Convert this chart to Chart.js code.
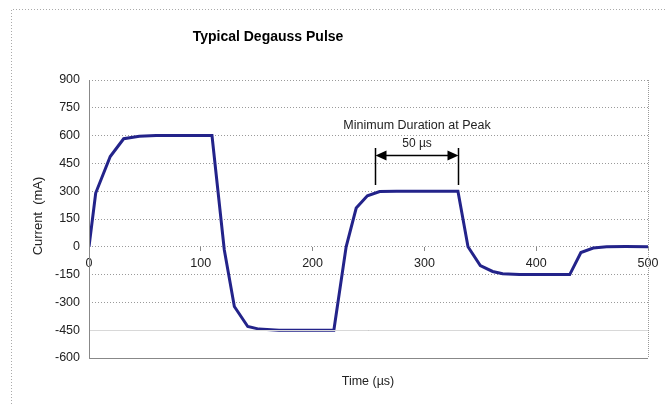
<!DOCTYPE html>
<html>
<head>
<meta charset="utf-8">
<script src="https://cdn.jsdelivr.net/npm/chart.js@4"></script>
<style>
  html, body { margin: 0; padding: 0; background: #fff; }
  #wrap { width: 665px; height: 404px; }
</style>
</head>
<body>
<div id="wrap"><canvas id="pulse" width="665" height="404"></canvas></div>
<script>
// values
const timeUs = [0, 6, 19, 31, 45, 60, 110, 121, 130, 142, 152, 170, 219, 230, 239, 249, 260, 275, 330, 339, 350, 361, 370, 385, 430, 440, 451, 463, 480, 500];
const currentMa = [0, 290, 487, 583, 597, 600, 600, -16, -322, -430, -444, -450, -450, 0, 209, 275, 298, 300, 300, 0, -101, -133, -145, -150, -150, -31, -7, 0, 1, 0];
const yTicks = [-600, -450, -300, -150, 0, 150, 300, 450, 600, 750, 900];
const xTicks = [0, 100, 200, 300, 400, 500];

const chartTitle = "Typical Degauss Pulse";
const xTitle = "Time (µs)";
const yTitle = "Current  (mA)";
const noteTitle = "Minimum Duration at Peak";
const noteSpan = "50 µs";
// annotation span in data units
const spanStart = 256, spanEnd = 330;
const spanTop = 533, spanBottom = 334, arrowAt = 496, spanLabelAt = 555, noteAt = 652;

const FONT = "'Liberation Sans', Arial, sans-serif";

const decor = {
  id: "decor",
  beforeDraw(chart) {
    const ctx = chart.ctx;
    ctx.save();
    ctx.strokeStyle = "#aaa";
    ctx.lineWidth = 1;
    ctx.setLineDash([1, 2]);
    ctx.beginPath();
    ctx.moveTo(11.5, 404);
    ctx.lineTo(11.5, 9.5);
    ctx.lineTo(665, 9.5);
    ctx.stroke();
    ctx.restore();
  },
  afterDatasetsDraw(chart) {
    const { ctx, chartArea: a, scales: { x, y } } = chart;
    ctx.save();
    // plot frame
    ctx.setLineDash([]);
    ctx.strokeStyle = "#d8d8d8";
    ctx.lineWidth = 1;
    ctx.beginPath();
    const y450 = Math.round(y.getPixelForValue(-450)) + 0.5;
    ctx.moveTo(a.left, y450); ctx.lineTo(a.right, y450);
    ctx.stroke();
    ctx.strokeStyle = "#888";
    ctx.beginPath();
    ctx.moveTo(Math.round(a.left) + 0.5, a.top);
    ctx.lineTo(Math.round(a.left) + 0.5, Math.round(a.bottom) + 0.5);
    ctx.lineTo(a.right, Math.round(a.bottom) + 0.5);
    ctx.stroke();
    ctx.setLineDash([1, 1]);
    ctx.strokeStyle = "#999";
    ctx.beginPath();
    ctx.moveTo(Math.round(a.right) + 0.5, a.top);
    ctx.lineTo(Math.round(a.right) + 0.5, a.bottom);
    ctx.stroke();
    ctx.setLineDash([]);

    // duration annotation
    const x1 = Math.round(x.getPixelForValue(spanStart)) + 0.5;
    const x2 = Math.round(x.getPixelForValue(spanEnd)) + 0.5;
    const yt = y.getPixelForValue(spanTop);
    const yb = y.getPixelForValue(spanBottom);
    const ya = Math.round(y.getPixelForValue(arrowAt)) + 0.5;
    ctx.strokeStyle = "#000";
    ctx.fillStyle = "#000";
    ctx.lineWidth = 1.5;
    ctx.beginPath();
    ctx.moveTo(x1, yt); ctx.lineTo(x1, yb);
    ctx.moveTo(x2, yt); ctx.lineTo(x2, yb);
    ctx.moveTo(x1 + 6, ya); ctx.lineTo(x2 - 6, ya);
    ctx.stroke();
    ctx.beginPath();
    ctx.moveTo(x1, ya); ctx.lineTo(x1 + 11, ya - 5); ctx.lineTo(x1 + 11, ya + 5); ctx.closePath();
    ctx.moveTo(x2, ya); ctx.lineTo(x2 - 11, ya - 5); ctx.lineTo(x2 - 11, ya + 5); ctx.closePath();
    ctx.fill();

    ctx.fillStyle = "#222";
    ctx.textAlign = "center";
    ctx.textBaseline = "middle";
    ctx.font = "12px " + FONT;
    const xm = (x1 + x2) / 2;
    ctx.fillText(noteSpan, xm, y.getPixelForValue(spanLabelAt));
    ctx.font = "12.5px " + FONT;
    ctx.fillText(noteTitle, xm, y.getPixelForValue(noteAt));

    // titles
    ctx.fillStyle = "#000";
    ctx.font = "bold 14px " + FONT;
    ctx.fillText(chartTitle, 268, 37);
    ctx.fillStyle = "#222";
    ctx.font = "12.5px " + FONT;
    ctx.fillText(xTitle, 368, 382);
    ctx.translate(38, 216);
    ctx.rotate(-Math.PI / 2);
    ctx.font = "13px " + FONT;
    ctx.fillText(yTitle, 0, 0);
    ctx.restore();
  }
};

new Chart(document.getElementById("pulse"), {
  type: "scatter",
  data: {
    datasets: [{
      data: timeUs.map((t, i) => ({ x: t, y: currentMa[i] })),
      showLine: true,
      borderColor: "#23238a",
      borderWidth: 3,
      pointRadius: 0,
      tension: 0
    }]
  },
  options: {
    responsive: false,
    animation: false,
    layout: { padding: { left: 0, top: 80, right: 17, bottom: 46 } },
    plugins: { legend: { display: false }, tooltip: { enabled: false } },
    scales: {
      x: {
        type: "linear",
        position: { y: 0 },
        min: 0, max: 500,
        afterBuildTicks: (s) => { s.ticks = xTicks.map(v => ({ value: v })); },
        grid: { drawOnChartArea: false, drawTicks: true, tickLength: 4, color: "#888" },
        border: { display: false },
        ticks: { color: "#222", font: { family: FONT, size: 12.5 }, padding: 5, maxRotation: 0 }
      },
      y: {
        min: -600, max: 900,
        afterBuildTicks: (s) => { s.ticks = yTicks.map(v => ({ value: v })); },
        afterFit: (s) => { s.width = 89; },
        grid: { color: "#9a9a9a", drawTicks: false },
        border: { display: false, dash: [1, 2] },
        ticks: { color: "#222", font: { family: FONT, size: 12.5 }, padding: 9 }
      }
    }
  },
  plugins: [decor]
});
</script>
</body>
</html>
